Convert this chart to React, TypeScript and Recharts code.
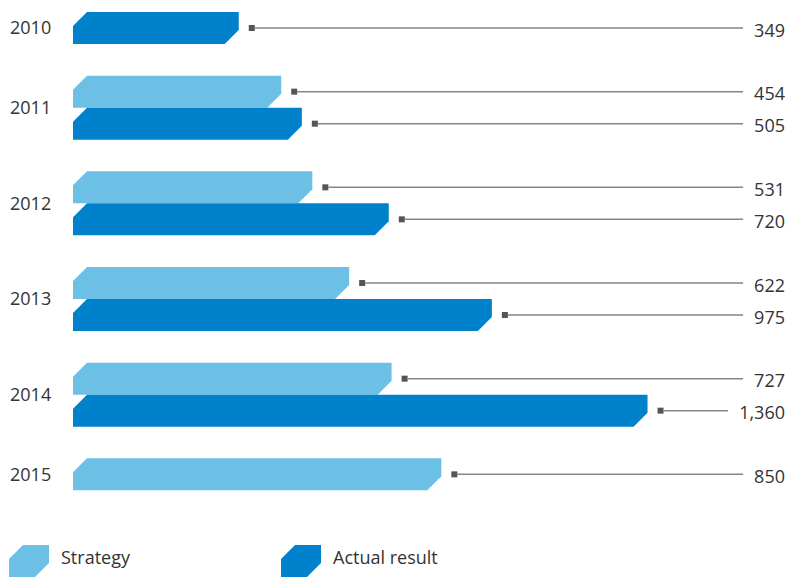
import { FC } from "react";
import { BarChart, Bar, XAxis, YAxis, Legend } from "recharts";

const years = ["2010", "2011", "2012", "2013", "2014", "2015"];
const strategy: (number | null)[] = [null, 454, 531, 622, 727, 850];
const actual: (number | null)[] = [349, 505, 720, 975, 1360, null];

const LIGHT = "#6cc0e6";
const DARK = "#0081cb";
const TEXT = "#333333";
const FONT = "'Open Sans', sans-serif";
const AXIS_MIN = -61;
const AXIS_MAX = 1700;
const BAR = 32;
const CUT = 14;

const data = years.map((year, i) => ({
  year,
  strategy: strategy[i],
  actual: actual[i],
}));

const range = (key: "strategy" | "actual") => (d: any) =>
  d[key] == null ? [AXIS_MIN, AXIS_MIN] : [AXIS_MIN, d[key]];

const chamfer = (x: number, y: number, w: number, h: number) =>
  `${x},${y + CUT} ${x + CUT},${y} ${x + w},${y} ${x + w},${y + h - CUT} ${x + w - CUT},${y + h} ${x},${y + h}`;

const makeShape = (key: "strategy" | "actual", fill: string) => (props: any) => {
  const { x, y, width, height, payload } = props;
  const v = payload[key];
  if (v == null || width < 1) return <g />;
  const cy = y + height / 2;
  const label = v.toLocaleString("en-US");
  const textW = label.replace(/,/g, "").length * 10.3 + (label.includes(",") ? 4.7 : 0);
  const right = 785;
  const lineEnd = right - textW - 11;
  const mx = x + width + 10;
  return (
    <g>
      <polygon points={chamfer(x, y, width, height)} fill={fill} />
      <rect x={mx} y={cy - 3} width={6} height={6} fill="#555" />
      <line x1={mx + 6} y1={cy} x2={lineEnd} y2={cy} stroke="#858585" strokeWidth={1.5} />
      <text x={right} y={cy + 8.5} textAnchor="end" fontSize={18} fill={TEXT} fontFamily={FONT}>
        {label}
      </text>
    </g>
  );
};

const YearTick: FC<any> = ({ y, payload }) => {
  const row = data[payload.index];
  let shift = 0;
  if (row.strategy == null) shift = BAR / 2;
  if (row.actual == null) shift = -BAR / 2;
  return (
    <text x={10} y={y + shift + 6.5} fontSize={18} fill={TEXT} fontFamily={FONT}>
      {payload.value}
    </text>
  );
};

const LegendIcon: FC<{ fill: string }> = ({ fill }) => (
  <svg width={40} height={32} style={{ position: "absolute", left: 0, top: 0 }}>
    <polygon points={chamfer(0, 0, 40, 32)} fill={fill} />
  </svg>
);

const items = [
  { name: "Strategy", fill: LIGHT, left: 9 },
  { name: "Actual result", fill: DARK, left: 281 },
];

const renderLegend = () => (
  <div style={{ position: "relative", width: 790, height: 32 }}>
    {items.map((it) => (
      <div key={it.name} style={{ position: "absolute", left: it.left, top: 0, height: 32 }}>
        <LegendIcon fill={it.fill} />
        <span
          style={{
            position: "absolute",
            left: 52,
            top: 0,
            fontFamily: FONT,
            fontSize: 18,
            color: TEXT,
            whiteSpace: "nowrap",
            lineHeight: "24px",
          }}
        >
          {it.name}
        </span>
      </div>
    ))}
  </div>
);

const App: FC = () => (
  <div style={{ position: "absolute", left: 0, top: -36 }}>
    <BarChart
      width={790}
      height={613}
      data={data}
      layout="vertical"
      margin={{ top: 0, right: 5, bottom: 39, left: 0 }}
      barGap={0}
      barSize={BAR}
    >
      <XAxis type="number" domain={[AXIS_MIN, AXIS_MAX]} hide allowDataOverflow />
      <YAxis
        type="category"
        dataKey="year"
        width={73}
        axisLine={false}
        tickLine={false}
        tick={<YearTick />}
        interval={0}
      />
      <Legend
        verticalAlign="middle"
        align="center"
        content={renderLegend}
        wrapperStyle={{ top: 581, left: 0, width: 790 }}
      />
      <Bar dataKey={range("strategy")} name="Strategy" fill={LIGHT} shape={makeShape("strategy", LIGHT)} isAnimationActive={false} />
      <Bar dataKey={range("actual")} name="Actual result" fill={DARK} shape={makeShape("actual", DARK)} isAnimationActive={false} />
    </BarChart>
  </div>
);

export default App;
